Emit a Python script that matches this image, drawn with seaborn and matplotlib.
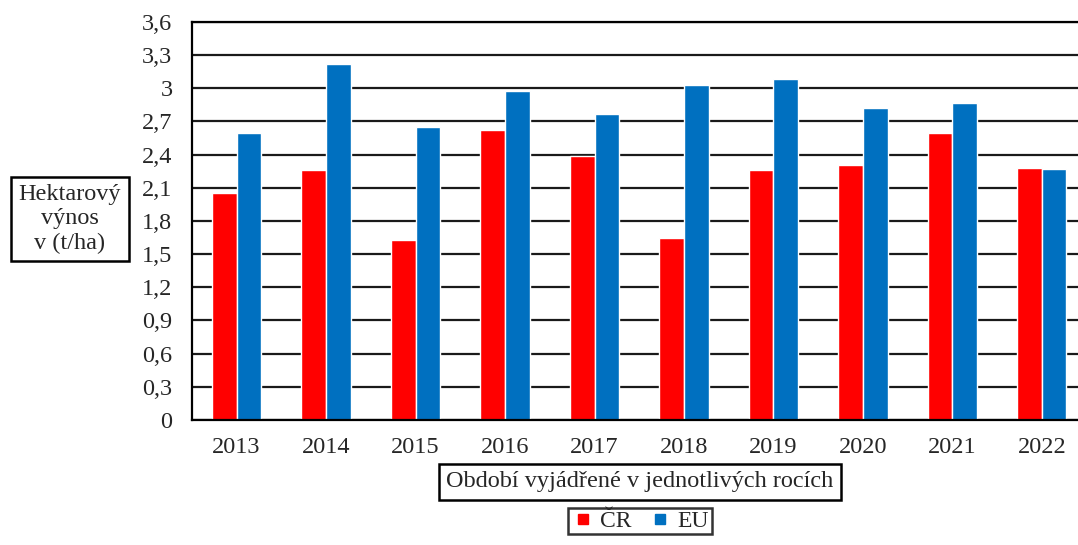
import pandas as pd
import matplotlib.pyplot as plt
import seaborn as sns
from matplotlib.lines import Line2D

# Data
years = ['2013', '2014', '2015', '2016', '2017', '2018', '2019', '2020', '2021', '2022']
cr = [2.05, 2.26, 1.63, 2.62, 2.39, 1.65, 2.26, 2.31, 2.60, 2.28]
eu = [2.60, 3.22, 2.65, 2.98, 2.77, 3.03, 3.08, 2.82, 2.87, 2.27]
series = ['ČR', 'EU']
colors = ['#FF0000', '#0070C0']
ytick_vals = [0, 0.3, 0.6, 0.9, 1.2, 1.5, 1.8, 2.1, 2.4, 2.7, 3.0, 3.3, 3.6]
ytick_labels = ['0', '0,3', '0,6', '0,9', '1,2', '1,5', '1,8', '2,1', '2,4', '2,7', '3', '3,3', '3,6']

df = pd.DataFrame({
    'rok': years * 2,
    'hodnota': cr + eu,
    'oblast': [series[0]] * len(years) + [series[1]] * len(years),
})

sns.set_style('white')
plt.rcParams['font.family'] = ['Liberation Serif', 'DejaVu Serif']
fs = 17.5

fig = plt.figure(figsize=(10.78, 5.45), dpi=100)
ax = fig.add_axes([0.178, 0.2294, 0.830, 0.7303])

sns.barplot(data=df, x='rok', y='hodnota', hue='oblast', palette=colors, saturation=1,
            width=0.55, edgecolor='white', linewidth=1, ax=ax, legend=False)

ax.set_ylim(0, 3.6)
ax.set_xlim(-0.5, len(years) - 0.5)
ax.set_yticks(ytick_vals)
ax.set_yticklabels(ytick_labels)
ax.yaxis.grid(True, color='#1a1a1a', linewidth=1.6)
ax.set_axisbelow(True)

ax.tick_params(axis='y', length=0, pad=14, labelsize=fs)
ax.tick_params(axis='x', which='major', length=0, pad=12, labelsize=fs)
ax.set_xticks([i - 0.5 for i in range(len(years) + 1)], minor=True)
ax.tick_params(axis='x', which='minor', length=6, width=1.5, direction='out', color='black')

for side in ['left', 'bottom', 'top']:
    ax.spines[side].set_visible(True)
    ax.spines[side].set_color('black')
    ax.spines[side].set_linewidth(1.6)
ax.spines['right'].set_visible(False)

ax.set_xlabel('')
ax.set_ylabel('')

box = dict(boxstyle='square,pad=0.3', fc='white', ec='black', lw=1.8)
fig.text(70 / 1078, 1 - 219 / 545, 'Hektarový\nvýnos\nv (t/ha)', ha='center', va='center',
         fontsize=fs, linespacing=1.2, bbox=box)
fig.text(640 / 1078, 1 - 482 / 545, 'Období vyjádřené v jednotlivých rocích', ha='center',
         va='center', fontsize=fs, bbox=box)

handles = [Line2D([], [], marker='s', linestyle='none', markersize=7, color=c) for c in colors]
leg = fig.legend(handles, series, loc='upper center', bbox_to_anchor=(640 / 1078, 1 - 508 / 545),
                 ncol=2, frameon=True, fancybox=False, fontsize=17, handletextpad=0.25,
                 columnspacing=0.7, handlelength=1.0, borderpad=0.1, borderaxespad=0)
leg.get_frame().set_edgecolor('black')
leg.get_frame().set_linewidth(1.8)

fig.savefig('out.png', dpi=100)
